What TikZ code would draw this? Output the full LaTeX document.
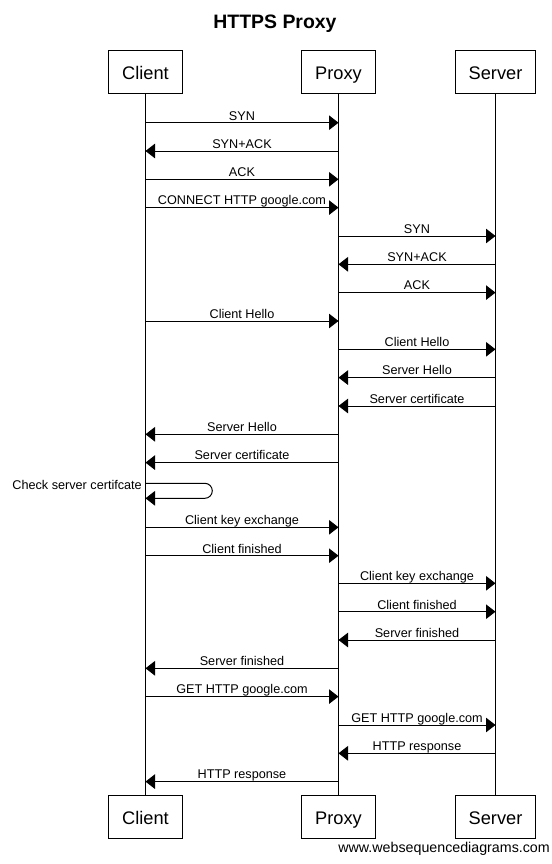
\documentclass[tikz,border=0pt]{standalone}
\usepackage{fontspec}
\setmainfont{Liberation Sans}
\usetikzlibrary{arrows.meta}
\begin{document}
\begin{tikzpicture}[x=1bp,y=-1bp,
  actor/.style={draw, line width=1bp, minimum height=43.3bp, inner xsep=13.3bp,
    text height=15.6bp, text depth=0.6bp,
    font=\fontsize{18.3}{20}\selectfont},
  msg/.style={line width=1bp, -{Triangle[length=9.5bp,width=14.5bp]}},
  lbl/.style={font=\fontsize{12.7}{14}\selectfont, anchor=base, inner sep=0pt, yshift=2.7bp},
  life/.style={line width=1bp}]
\fill[white] (0,0) rectangle (552,864);
\useasboundingbox (0,0) rectangle (552,864);
\node[font=\bfseries\fontsize{19.5}{22}\selectfont, anchor=base, inner sep=0pt] (title) at (275,28) {HTTPS Proxy};
\node[actor] (ct) at (145.5,71.7) {Client};
\node[actor] (pt) at (338.5,71.7) {Proxy};
\node[actor] (st) at (495.5,71.7) {Server};
\node[actor] (cb) at (145.5,816.7) {Client};
\node[actor] (pb) at (338.5,816.7) {Proxy};
\node[actor] (sb) at (495.5,816.7) {Server};
\draw[life] (ct) -- (cb);
\draw[life] (pt) -- (pb);
\draw[life] (st) -- (sb);
\newcommand\mymsg[4]{\draw[msg] (#1 |- 0,#3) -- (#2 |- 0,#3) node[lbl, midway] {#4};}
\mymsg{ct}{pt}{122.7}{SYN}
\mymsg{pt}{ct}{151}{SYN+ACK}
\mymsg{ct}{pt}{179.3}{ACK}
\mymsg{ct}{pt}{207.6}{CONNECT HTTP google.com}
\mymsg{pt}{st}{236}{SYN}
\mymsg{st}{pt}{264.3}{SYN+ACK}
\mymsg{pt}{st}{292.6}{ACK}
\mymsg{ct}{pt}{321}{Client Hello}
\mymsg{pt}{st}{349.3}{Client Hello}
\mymsg{st}{pt}{377.6}{Server Hello}
\mymsg{st}{pt}{406}{Server certificate}
\mymsg{pt}{ct}{434.3}{Server Hello}
\mymsg{pt}{ct}{462.6}{Server certificate}
\draw[msg, rounded corners=7.5bp] (ct |- 0,483.3) -- (212.3,483.3) -- (212.3,498.3) -- (ct |- 0,498.3);
\node[font=\fontsize{12.7}{14}\selectfont, anchor=base east, inner sep=0pt] (selflbl) at (142,489) {Check server certifcate};
\mymsg{ct}{pt}{527.3}{Client key exchange}
\mymsg{ct}{pt}{555.7}{Client finished}
\mymsg{pt}{st}{583.3}{Client key exchange}
\mymsg{pt}{st}{611.7}{Client finished}
\mymsg{st}{pt}{640}{Server finished}
\mymsg{pt}{ct}{668.3}{Server finished}
\mymsg{ct}{pt}{696.6}{GET HTTP google.com}
\mymsg{pt}{st}{725}{GET HTTP google.com}
\mymsg{st}{pt}{753.3}{HTTP response}
\mymsg{pt}{ct}{781.6}{HTTP response}
\node[font=\fontsize{14.3}{16}\selectfont, anchor=base east, inner sep=0pt] (foot) at (550,852) {www.websequencediagrams.com};
\end{tikzpicture}
\end{document}
